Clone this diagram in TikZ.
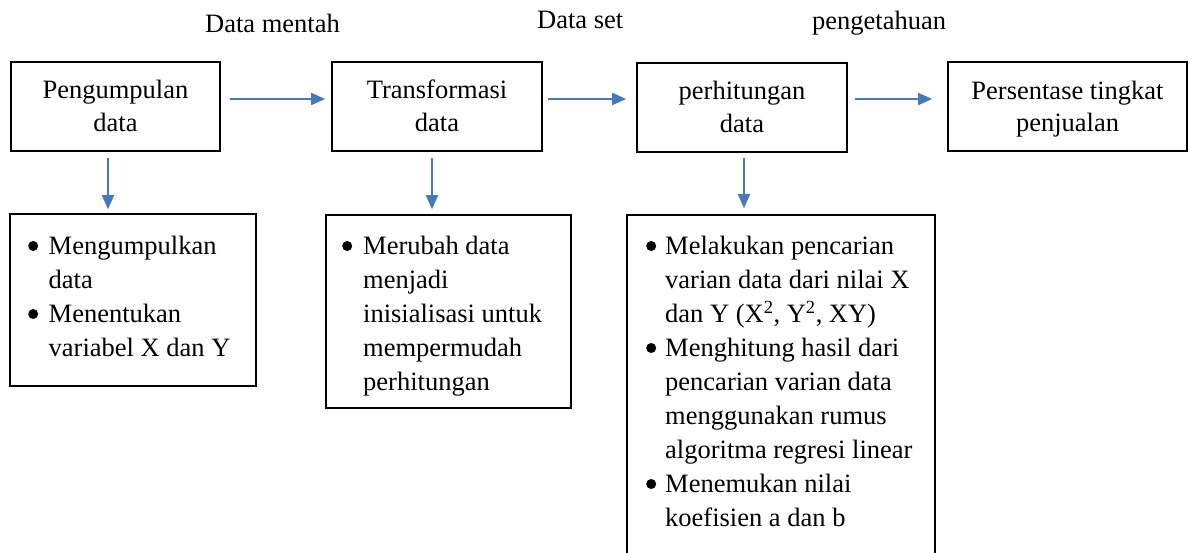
\documentclass[tikz,border=0pt]{standalone}
\usepackage{fontspec}
\setmainfont{Liberation Serif}
\usetikzlibrary{arrows.meta}
\definecolor{flow}{RGB}{70,120,190}
% round list mark, centred 9pt above the baseline
\newcommand\dotmark{\tikz[baseline=-9pt]\fill (5pt,0pt) circle[radius=5pt];}
\begin{document}
\begin{tikzpicture}[x=1pt,y=-1pt,
  every node/.style={font=\fontsize{26.5}{34}\selectfont},
  box/.style={draw=black,line width=1.6pt,inner sep=0pt},
  ctxt/.style={inner sep=0pt,anchor=base},
  ltxt/.style={inner sep=0pt,anchor=base west},
  flowarrow/.style={draw=flow,line width=1.7pt,-{Triangle[length=14pt,width=12pt]}}
]
\clip (0,0) rectangle (1189,553);
\fill[white] (0,0) rectangle (1189,553);

% stage boxes
\node[box,minimum width=209pt,minimum height=89pt] (b1) at (115.5,106.5) {};
\node[box,minimum width=210pt,minimum height=89pt] (b2) at (437,106.5) {};
\node[box,minimum width=210pt,minimum height=89pt] (b3) at (742,107.5) {};
\node[box,minimum width=239pt,minimum height=89pt] (b4) at (1067.5,106.5) {};

\node[ctxt] (b1a) at (115.5,99) {Pengumpulan};
\node[ctxt] (b1b) at (115.5,132) {data};
\node[ctxt] (b2a) at (437,99) {Transformasi};
\node[ctxt] (b2b) at (437,132) {data};
\node[ctxt] (b3a) at (742,100) {perhitungan};
\node[ctxt] (b3b) at (742,133) {data};
\node[ctxt] (b4a) at (1067.5,100) {Persentase tingkat};
\node[ctxt] (b4b) at (1067.5,132) {penjualan};

% labels above the arrows
\node[ltxt] (lab1) at (205,33) {Data mentah};
\node[ltxt] (lab2) at (537,29) {Data set};
\node[ltxt] (lab3) at (812,30) {pengetahuan};

% detail boxes
\node[box,minimum width=246pt,minimum height=172pt] (l1) at (133,300) {};
\node[box,minimum width=245pt,minimum height=193pt] (l2) at (448.5,311.5) {};
\node[box,minimum width=308pt,minimum height=385pt] (l3) at (781,407.5) {};

\node[ltxt] (l1t) at (28,255) {\begin{tabular}[t]{@{}l@{}l@{}}
\makebox[20.5pt][l]{\dotmark} & Mengumpulkan\\
 & data\\
\dotmark & Menentukan\\
 & variabel X dan Y
\end{tabular}};

\node[ltxt] (l2t) at (342,255) {\begin{tabular}[t]{@{}l@{}l@{}}
\makebox[21pt][l]{\dotmark} & Merubah data\\
 & menjadi\\
 & inisialisasi untuk\\
 & mempermudah\\
 & perhitungan
\end{tabular}};

\node[ltxt] (l3t) at (646,255) {\begin{tabular}[t]{@{}l@{}l@{}}
\makebox[19pt][l]{\dotmark} & Melakukan pencarian\\
 & varian data dari nilai X\\
 & dan Y (X\textsuperscript{2}, Y\textsuperscript{2}, XY)\\
\dotmark & Menghitung hasil dari\\
 & pencarian varian data\\
 & menggunakan rumus\\
 & algoritma regresi linear\\
\dotmark & Menemukan nilai\\
 & koefisien a dan b
\end{tabular}};

% flow between stages
\draw[flowarrow,shorten <=9pt,shorten >=6pt] (b1.east |- 0,99) -- (b2.west |- 0,99);
\draw[flowarrow,shorten <=5pt,shorten >=10pt] (b2.east |- 0,99) -- (b3.west |- 0,99);
\draw[flowarrow,shorten <=7pt,shorten >=15pt] (b3.east |- 0,99) -- (b4.west |- 0,99);

% stage to details
\draw[flowarrow,shorten <=6pt,shorten >=4pt] (b1.south -| 108,0) -- (l1.north -| 108,0);
\draw[flowarrow,shorten <=6pt,shorten >=5pt] (b2.south -| 432,0) -- (l2.north -| 432,0);
\draw[flowarrow,shorten <=5pt,shorten >=6pt] (b3.south -| 744,0) -- (l3.north -| 744,0);
\end{tikzpicture}
\end{document}
